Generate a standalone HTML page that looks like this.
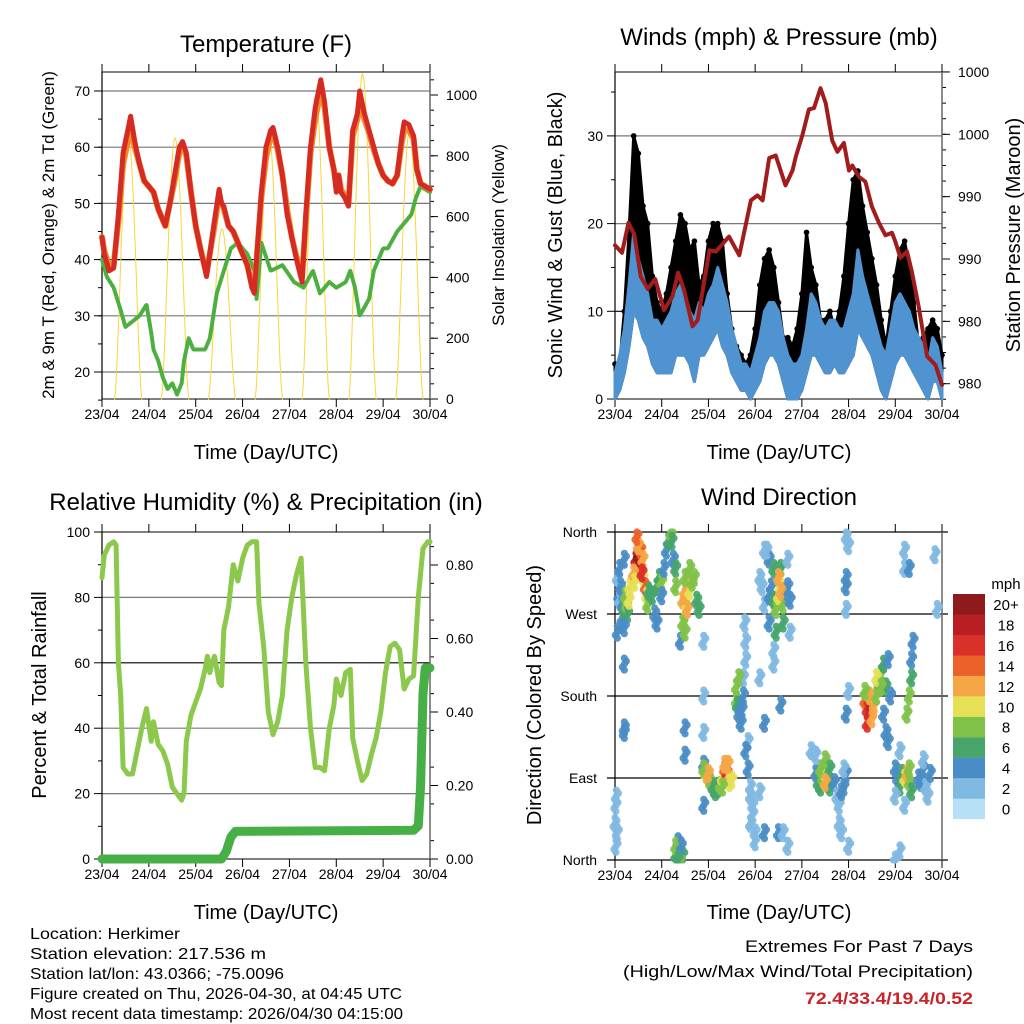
<!DOCTYPE html>
<html><head><meta charset="utf-8"><style>
html,body{margin:0;padding:0;background:#fff}
svg{display:block;font-family:"Liberation Sans",sans-serif}
</style></head><body>
<svg id="c" width="1024" height="1024" viewBox="0 0 1024 1024" xmlns="http://www.w3.org/2000/svg">
<g font-size="24" text-anchor="middle">
<text x="266" y="52">Temperature (F)</text>
<text x="779" y="45">Winds (mph) &amp; Pressure (mb)</text>
<text x="266" y="510">Relative Humidity (%) &amp; Precipitation (in)</text>
<text x="779" y="505">Wind Direction</text>
</g>
<g font-size="20" text-anchor="middle">
<text x="266" y="459">Time (Day/UTC)</text>
<text x="779" y="459">Time (Day/UTC)</text>
<text x="266" y="919">Time (Day/UTC)</text>
<text x="779" y="919">Time (Day/UTC)</text>
<text transform="translate(54,235) rotate(-90)" font-size="17">2m &amp; 9m T (Red, Orange) &amp; 2m Td (Green)</text>
<text transform="translate(504,235) rotate(-90)" font-size="17">Solar Insolation (Yellow)</text>
<text transform="translate(562,235) rotate(-90)">Sonic Wind &amp; Gust (Blue, Black)</text>
<text transform="translate(1020,235) rotate(-90)">Station Pressure (Maroon)</text>
<text transform="translate(46,695) rotate(-90)">Percent &amp; Total Rainfall</text>
<text transform="translate(541,695) rotate(-90)">Direction (Colored By Speed)</text>
</g>
<g font-size="16">
<text x="30" y="939" textLength="150" lengthAdjust="spacingAndGlyphs">Location: Herkimer</text>
<text x="30" y="959" textLength="236" lengthAdjust="spacingAndGlyphs">Station elevation: 217.536 m</text>
<text x="30" y="979" textLength="254" lengthAdjust="spacingAndGlyphs">Station lat/lon: 43.0366; -75.0096</text>
<text x="30" y="999" textLength="372" lengthAdjust="spacingAndGlyphs">Figure created on Thu, 2026-04-30, at 04:45 UTC</text>
<text x="30" y="1019" textLength="373" lengthAdjust="spacingAndGlyphs">Most recent data timestamp: 2026/04/30 04:15:00</text>
</g>
<g font-size="17" text-anchor="end">
<text x="973" y="952" textLength="228" lengthAdjust="spacingAndGlyphs">Extremes For Past 7 Days</text>
<text x="973" y="977" textLength="350" lengthAdjust="spacingAndGlyphs">(High/Low/Max Wind/Total Precipitation)</text>
<text x="973" y="1004" font-weight="bold" fill="#c8252b" textLength="168" lengthAdjust="spacingAndGlyphs">72.4/33.4/19.4/0.52</text>
</g>
<g id="plots"></g>
</svg>
<script>
// ---- data ----
const dayLabels=["23/04","24/04","25/04","26/04","27/04","28/04","29/04","30/04"];
const tempTimes=[0,0.05,0.15,0.25,0.35,0.45,0.55,0.61,0.7,0.8,0.9,1.0,1.1,1.2,1.3,1.35,1.45,1.55,1.65,1.72,1.8,1.9,2.0,2.1,2.23,2.3,2.4,2.5,2.55,2.6,2.7,2.8,2.9,3.0,3.1,3.2,3.25,3.3,3.4,3.5,3.6,3.65,3.75,3.85,3.95,4.05,4.15,4.27,4.35,4.45,4.55,4.67,4.75,4.85,4.95,5.0,5.05,5.1,5.18,5.26,5.35,5.45,5.5,5.6,5.7,5.8,5.9,6.0,6.1,6.2,6.3,6.4,6.45,6.55,6.65,6.72,6.8,6.9,7.0];
const temp2m=[44,41,38,38.5,48,59,63,65.5,61,57,54,53,52,49,47,46,50,55,60,61,59,52,46,42,37,41,47,52.5,50,49.5,46,45,43,41,39,35,34,40,52,60,63,63.5,60,55,48,44,40,36,48,60,67,72,68,60,56,52,55,52,51,49.5,63,66,70,66,63,60,57,55,54,53.5,55,62,64.5,64,62,56,53.5,53,52.5];
const temp9m=[44,41.5,39,39,47,57,61,63,60,57,54,53,52,49,47,46,50,54,59,60,58.5,52,46,42,37.5,41,46,51.5,50,49,46,45,43,41,39,35.5,35,40,51,58,62,62.5,59.5,55,49,44,40.5,37,47,59,65,70,67,60,56,53,55,52.5,51.5,50,62,65,68.5,65,62.5,59.5,57,55,54,53.5,55,61,63,63,61.5,56,53.5,53,52.5];
const dewTimes=[0,0.1,0.25,0.4,0.5,0.65,0.8,0.95,1.05,1.1,1.2,1.3,1.4,1.5,1.6,1.7,1.75,1.85,1.95,2.05,2.2,2.3,2.45,2.6,2.75,2.9,3.1,3.25,3.3,3.4,3.6,3.85,4.1,4.3,4.5,4.65,4.85,5.0,5.2,5.3,5.4,5.5,5.7,5.8,6.0,6.1,6.3,6.5,6.6,6.7,6.8,7.0];
const dewpoint=[40,37,35,31,28,29,30,32,27,24,22,19,17,18,16,18,22,26,24,24,24,26,34,38,42,43,41,38,33,43,38,39,36,35,38,34,36,35,36,38,35,30,33,38,42,42,45,47,48,51,53,52];
const solarPeak=[870,860,560,880,1000,1070,880];
const windTimes=[0,0.1,0.2,0.3,0.4,0.5,0.6,0.7,0.8,0.9,1.0,1.1,1.2,1.3,1.4,1.5,1.6,1.7,1.8,1.9,2.0,2.1,2.2,2.3,2.4,2.5,2.6,2.7,2.8,2.9,3.0,3.1,3.2,3.3,3.4,3.5,3.6,3.7,3.8,3.9,4.0,4.1,4.2,4.3,4.4,4.5,4.6,4.7,4.8,4.9,5.0,5.1,5.2,5.3,5.4,5.5,5.6,5.7,5.8,5.9,6.0,6.1,6.2,6.3,6.4,6.5,6.6,6.7,6.8,6.9,7.0];
const windHigh=[3,5,8,13,19,16,14,12,9,9,8,9,10,12,13,12,10,9,11,10,12,13,15,13,11,8,6,4,4,3,5,7,10,11,11,10,7,5,4,4,5,8,12,11,9,8,9,9,8,8,10,12,17,14,12,10,8,6,5,8,11,12,11,10,8,7,6,4,7,6,3];
const windLow=[0,1,3,6,10,9,7,6,4,3,3,3,3,5,5,5,4,2,5,5,6,7,8,6,5,3,2,1,1,0,1,2,4,5,5,4,2,0,0,0,1,3,5,5,4,3,3,4,3,3,4,5,8,7,6,5,3,1,0,2,4,5,5,4,3,2,1,0,2,2,0];
const gustHigh=[4,4,10,19,30,28,22,20,14,11,10,12,15,18,21,20,17,18,13,14,18,20,20,18,12,8,6,5,4,5,8,13,16,17,15,11,7,7,6,8,12,19,15,13,9,9,10,8,10,14,20,25,26,22,19,16,13,9,6,10,14,17,18,15,11,6,7,8,9,8,5];
const presTimes=[0,0.15,0.29,0.41,0.55,0.7,0.86,1.05,1.23,1.35,1.48,1.66,1.77,2.02,2.16,2.44,2.66,2.91,3.05,3.16,3.3,3.44,3.65,3.8,3.87,4.01,4.15,4.26,4.4,4.51,4.65,4.76,4.9,5.01,5.08,5.22,5.36,5.5,5.65,5.79,5.93,6.0,6.11,6.25,6.36,6.5,6.68,6.86,7.0];
const pressure=[991.1,990.5,992.9,992.0,988.6,987.6,988.4,985.9,987.0,988.9,987.5,984.6,985.1,990.7,990.6,991.8,990.3,994.7,995.1,994.7,998.1,998.3,995.9,997.1,998.2,999.9,1002.0,1002.1,1003.7,1002.5,999.5,998.6,999.3,997.1,997.5,996.6,996.2,994.2,992.9,991.9,992.1,991.4,990.1,990.6,988.9,986.2,982.2,981.5,979.9];
const presTicks=[980,985,990,995,1000,1005];
const presLabels=["980","980","990","990","1000","1000"];
const rhTimes=[0,0.05,0.15,0.25,0.3,0.35,0.4,0.45,0.55,0.65,0.75,0.85,0.95,1.05,1.1,1.2,1.3,1.4,1.5,1.6,1.7,1.75,1.8,1.9,2.0,2.1,2.2,2.25,2.3,2.35,2.4,2.5,2.55,2.6,2.7,2.8,2.9,3.0,3.1,3.2,3.3,3.35,3.45,3.55,3.65,3.75,3.85,3.95,4.05,4.15,4.25,4.35,4.45,4.55,4.65,4.75,4.85,4.95,5.0,5.1,5.2,5.3,5.35,5.45,5.55,5.65,5.75,5.85,5.95,6.05,6.15,6.25,6.35,6.45,6.55,6.65,6.75,6.85,6.95,7.0];
const rh=[86,93,96,97,96,60,50,28,26,26,33,40,46,36,42,35,33,29,22,20,18,20,36,44,48,52,58,62,57,60,62,54,53,70,77,90,85,92,96,97,97,78,65,45,38,42,50,70,80,87,92,60,40,28,28,27,40,47,55,50,57,58,37,30,24,26,32,37,45,57,65,66,64,52,55,56,80,95,97,97];
const rainTimes=[0,2.55,2.65,2.75,2.85,6.65,6.75,6.8,6.85,6.9,7.0];
const rainTotal=[0,0,0.02,0.06,0.075,0.078,0.09,0.2,0.45,0.52,0.52];
const rhTicks=[0,20,40,60,80,100];
const rainTicks=[0,0.2,0.4,0.6,0.8];
const dirTicks=[0,90,180,270,360];
const dirLabels=["North","East","South","West","North"];
const speedBins=["0","2","4","6","8","10","12","14","16","18","20+"];
const dirTime=[0.05,0.08,0.1,0.12,0.15,0.15,0.2,0.22,0.25,0.27,0.3,0.32,0.1,0.2,0.05,0.2,0.2,
0.45,0.48,0.5,0.52,0.55,0.5,0.47,0.6,0.6,0.65,0.68,0.7,0.72,0.4,0.42,0.58,
0.8,0.85,0.9,0.95,1.0,1.05,1.1,1.15,1.2,1.22,1.25,0.9,1.0,1.3,1.3,
1.45,1.5,1.55,1.6,1.65,1.5,1.45,1.55,1.6,1.7,1.75,1.8,1.5,1.4,1.5,
0.2,0.2,1.5,1.5,1.9,1.9,1.9,1.45,1.35,1.3,1.4,1.3,1.42,1.35,0.0,0.02,0.03,0.05,0.02,1.9,
1.9,1.95,2.0,2.05,2.1,2.15,2.2,2.25,2.3,2.35,2.4,2.42,2.45,2.5,2.3,1.9,2.0,2.35,2.42,
2.6,2.6,2.62,2.65,2.7,2.72,2.75,2.8,2.8,2.78,2.85,2.9,2.9,2.95,3.0,3.0,2.85,2.8,2.65,2.75,2.95,2.9,
3.1,3.15,3.2,3.3,3.35,3.4,3.45,3.5,3.55,3.6,3.65,3.7,3.75,3.3,3.4,3.55,3.2,3.3,3.45,3.6,3.75,3.4,3.7,3.5,3.55,3.25,3.1,3.2,3.1,3.2,3.5,3.6,3.7,3.4,3.55,
4.3,4.35,4.4,4.45,4.5,4.55,4.6,4.5,4.4,4.6,4.7,4.75,4.8,4.85,4.9,4.95,4.9,4.3,4.2,4.8,4.85,4.5,
5.35,5.4,5.45,5.4,5.5,5.55,5.45,5.35,5.6,5.65,5.7,5.75,5.8,5.6,5.7,5.75,5.8,5.85,5.9,5.85,
6.0,6.05,6.1,6.15,6.2,6.25,6.3,6.3,6.35,6.1,6.0,6.2,6.25,6.3,6.35,6.35,6.38,6.5,6.55,6.6,6.65,6.7,6.6,6.75,6.2,6.2,6.3,6.85,6.9,6.0,6.1,
4.95,5.0,4.95,4.95,4.95,4.95,5.0,5.0];
const dirDeg=[310,290,285,300,280,265,275,290,280,270,285,300,320,330,250,255,215,
330,320,335,325,340,345,355,330,310,300,290,280,295,315,305,315,
290,270,300,310,305,320,340,350,358,350,330,260,290,320,300,
285,290,300,295,305,270,260,275,320,310,285,275,310,240,250,
145,140,115,145,140,180,240,5,20,5,0,15,15,0,40,60,70,30,15,60,
105,95,90,85,80,75,78,82,90,100,95,90,85,88,80,100,95,105,105,
190,175,170,160,150,165,200,220,240,260,130,80,70,50,30,20,100,120,200,180,60,40,
310,300,280,290,300,285,275,290,300,280,295,300,285,330,320,320,340,260,250,260,250,230,330,310,295,340,200,150,75,30,30,30,15,215,170,
95,85,80,90,95,90,80,110,100,100,85,70,60,75,80,95,100,115,120,40,30,85,
175,165,160,150,155,170,180,185,180,195,205,215,190,200,190,160,140,130,180,220,
100,90,80,95,90,95,100,85,75,120,70,60,160,180,200,220,240,90,85,100,80,70,110,95,340,320,320,335,275,0,10,
355,345,310,275,300,160,185,15];
const dirSpeed=[2,3,2,4,4,3,6,7,8,6,10,9,3,4,3,4,4,
18,16,20,18,14,12,13,12,10,14,10,8,6,12,10,16,
6,4,6,6,7,4,4,6,8,6,4,4,4,6,8,
12,12,12,10,8,10,8,12,8,8,6,6,8,4,8,
4,4,4,4,2,2,2,6,4,6,8,8,4,6,2,2,2,2,2,4,
4,10,12,8,6,6,6,8,10,14,16,12,10,10,8,8,12,12,12,
8,8,6,4,4,4,2,2,2,2,2,2,2,2,2,2,4,4,8,4,2,2,
2,2,2,4,4,6,8,10,10,8,4,4,4,4,6,6,2,4,6,6,2,2,2,12,12,2,2,4,2,4,4,2,2,2,4,
4,6,6,8,10,10,6,8,8,6,4,2,2,4,4,4,2,2,2,2,2,12,
14,16,18,16,12,12,12,8,8,6,8,6,6,10,8,4,4,4,4,4,
4,4,6,6,10,12,8,8,6,2,2,2,8,8,6,4,4,4,4,4,2,2,2,4,2,2,4,2,2,2,2,
2,2,4,2,4,4,2,2];
// ---- helpers ----
const NS="http://www.w3.org/2000/svg";
const root=document.getElementById("plots");
function mk(tag,attrs,parent){const e=document.createElementNS(NS,tag);for(const k in attrs)e.setAttribute(k,attrs[k]);(parent||root).appendChild(e);return e;}
function ln(x1,y1,x2,y2,st,w,p){return mk("line",{x1:x1,y1:y1,x2:x2,y2:y2,stroke:st,"stroke-width":w},p);}
function txt(x,y,s,anchor,size,p){const t=mk("text",{x:x,y:y,"text-anchor":anchor,"font-size":size},p);t.textContent=s;return t;}
function frame(g,X0,X1,Y0,Y1){
  ln(X0,Y0,X1,Y0,"#000",1,g);ln(X0,Y1,X1,Y1,"#000",1,g);
  ln(X0,Y0,X0,Y1,"#000",1.2,g);ln(X1,Y0,X1,Y1,"#666",1.5,g);
  for(let d=0;d<8;d++){const x=X0+d*(X1-X0)/7;
    ln(x,Y0,x,Y0-8,"#000",1,g);ln(x,Y1,x,Y1+8,"#000",1,g);
    const t=txt(x,Y1+20,dayLabels[d],"middle",14,g);
    
    }
}
function poly(g,xs,ys,st,w,name){
  const pts=xs.map((x,i)=>x.toFixed(1)+","+ys[i].toFixed(1)).join(" ");
  const p=mk("polyline",{points:pts,fill:"none",stroke:st,"stroke-width":w,"stroke-linejoin":"round","stroke-linecap":"round"},g);
  
  
  return p;}
// ---- Panel 1: temperature ----
(function(){
  const g=mk("g",{});
  
  
  const X0=102,X1=430,Y0=72,Y1=399;
  const xs=t=>X0+t*(X1-X0)/7, ty=v=>91+(70-v)*5.62, sy=w=>Y1-w*0.304;
  for(let v=20;v<=70;v+=10){ln(X0,ty(v),X1,ty(v),v==40?"#000":"#777",1.2,g);ln(X0-8,ty(v),X0,ty(v),"#000",1,g);
    const t=txt(X0-12,ty(v)+5,String(v),"end",14,g);
    
    }
  for(let v=15;v<=70;v+=5)ln(X0-4,ty(v),X0,ty(v),"#000",1,g);
  for(let w=0;w<=1000;w+=200){ln(X1,sy(w),X1+8,sy(w),"#000",1,g);
    const t=txt(X1+16,sy(w)+5,String(w),"start",14,g);
    
    }
  for(let w=50;w<=1050;w+=50)ln(X1,sy(w),X1+4,sy(w),"#000",1,g);
  frame(g,X0,X1,Y0,Y1);
  for(let d=0;d<7;d++){const sx=[],syy=[];
    for(let k=0;k<=24;k++){const f=k/24;const t=d+0.27+f*0.58;sx.push(xs(t));syy.push(sy(solarPeak[d]*Math.pow(Math.sin(Math.PI*f),1.5)));}
    poly(g,sx,syy,"#f7d63a",1,"solar-insolation-day");}
  poly(g,dewTimes.map(xs),dewpoint.map(ty),"#4cb040",4,"dewpoint-line").setAttribute("stroke-dasharray","3 1.5");
  poly(g,tempTimes.map(xs),temp9m.map(ty),"#f28a2b",6,"temp-9m-line");
  poly(g,tempTimes.map(xs),temp2m.map(ty),"#d52b22",5,"temp-2m-line");
})();
// ---- Panel 2: winds ----
(function(){
  const g=mk("g",{});
  
  
  const X0=615,X1=942,Y0=72,Y1=399;
  const xs=t=>X0+t*(X1-X0)/7, wy=v=>Y1-v*8.77, py=p=>383.7-(p-980)*12.47;
  for(let v=0;v<=30;v+=10){if(v>0)ln(X0,wy(v),X1,wy(v),v==10?"#000":"#777",1.2,g);ln(X0-8,wy(v),X0,wy(v),"#000",1,g);
    const t=txt(X0-12,wy(v)+5,String(v),"end",14,g);
    
    }
  for(let v=5;v<=35;v+=10)ln(X0-4,wy(v),X0,wy(v),"#000",1,g);
  presTicks.forEach((p,i)=>{ln(X1,py(p),X1+8,py(p),"#000",1,g);
    const t=txt(X1+16,py(p)+5,presLabels[i],"start",14,g);
    
    });
  for(let p=978.75;p<=1005;p+=1.25)ln(X1,py(p),X1+4,py(p),"#000",1,g);
  frame(g,X0,X1,Y0,Y1);
  const gx=windTimes.map(xs);
  const gp=mk("polygon",{points:gx.map((x,i)=>x+","+wy(gustHigh[i])).concat(gx.slice().reverse().map((x,j)=>x+","+wy(windLow[windLow.length-1-j]))).join(" "),fill:"#000",stroke:"#000","stroke-width":3,"stroke-linejoin":"round"},g);
  
  
  windTimes.forEach((t,i)=>{const c=mk("circle",{cx:xs(t),cy:wy(gustHigh[i]),r:2.8,fill:"#000"},g);
    
    });
  const bp=mk("polygon",{points:gx.map((x,i)=>x+","+wy(windHigh[i])).concat(gx.slice().reverse().map((x,j)=>x+","+wy(windLow[windLow.length-1-j]))).join(" "),fill:"#4f94d0",stroke:"#4f94d0","stroke-width":3,"stroke-linejoin":"round"},g);
  
  
  poly(g,presTimes.map(xs),pressure.map(py),"#a11c1c",4,"pressure-line");
})();
// ---- Panel 3: RH & precip ----
(function(){
  const g=mk("g",{});
  
  
  const X0=102,X1=430,Y0=532,Y1=859;
  const xs=t=>X0+t*(X1-X0)/7, ry=v=>Y1-v*3.27, py=v=>Y1-v*367.5;
  rhTicks.forEach(v=>{if(v>0&&v<100)ln(X0,ry(v),X1,ry(v),v==60?"#000":"#777",1.2,g);ln(X0-8,ry(v),X0,ry(v),"#000",1,g);
    const t=txt(X0-12,ry(v)+5,String(v),"end",14,g);
    
    });
  for(let v=10;v<100;v+=20)ln(X0-4,ry(v),X0,ry(v),"#000",1,g);
  rainTicks.forEach(v=>{ln(X1,py(v),X1+8,py(v),"#000",1,g);
    const t=txt(X1+16,py(v)+5,v.toFixed(2),"start",14,g);
    
    });
  for(let v=0.05;v<0.85;v+=0.1)ln(X1,py(v),X1+4,py(v),"#000",1,g);
  frame(g,X0,X1,Y0,Y1);
  poly(g,rhTimes.map(xs),rh.map(ry),"#8cc84b",5,"rh-line");
  poly(g,rainTimes.map(xs),rainTotal.map(py),"#46b046",9,"rain-total-line");
})();
// ---- Panel 4: wind direction ----
(function(){
  const g=mk("g",{});
  
  
  const X0=615,X1=942,Y0=532,Y1=860;
  const xs=t=>X0+t*(X1-X0)/7, dy=d=>Y1-d*(Y1-Y0)/360;
  const cols=["#b5e0f6","#80b9e2","#4a8dc6","#47a56b","#80c249","#e6e055","#f5a745","#ec612a","#d9302a","#b81e24","#8e1a1c"];
  const offs=[[0,0],[0,-6],[0,6],[2,-3],[-2,3]];
  dirTicks.forEach((d,i)=>{ln(X0-8,dy(d),X1+6,dy(d),"#000",1.2,g);
    const t=txt(X0-18,dy(d)+5,dirLabels[i],"end",14,g);
    
    });
  frame(g,X0,X1,Y0,Y1);
  dirTime.forEach((t,i)=>{const k=Math.min(10,Math.round(dirSpeed[i]/2));
    const cx=xs(t),cy=dy(dirDeg[i]);
    offs.forEach(o=>{
      const c=mk("circle",{cx:cx+o[0],cy:Math.max(Y0,Math.min(Y1,cy+o[1])),r:3.6,fill:cols[k],"fill-opacity":0.92},g);
      
      
    });});
  const lg=mk("g",{},g);
  
  
  const t0=txt(1006,589,"mph","middle",15,lg);
  
  
  for(let k=0;k<11;k++){const y=594+(10-k)*20.45;
    const r=mk("rect",{x:953,y:y,width:32,height:20.6,fill:cols[k]},lg);
    
    
    const t=txt(1006,y+16,speedBins[k],"middle",15,lg);
    
    }
})();
</script>
</body></html>
